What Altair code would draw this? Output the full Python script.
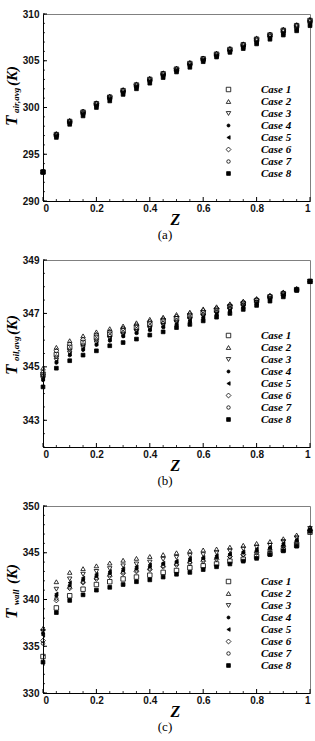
import altair as alt
import pandas as pd

z = [0.0, 0.05, 0.1, 0.15, 0.2, 0.25, 0.3, 0.35, 0.4, 0.45, 0.5,
     0.55, 0.6, 0.65, 0.7, 0.75, 0.8, 0.85, 0.9, 0.95, 1.0]
cases = ["Case 1", "Case 2", "Case 3", "Case 4", "Case 5", "Case 6", "Case 7", "Case 8"]

# Panel (a): T_air,avg
a_case1 = [293.1, 297.1, 298.5, 299.5, 300.4, 301.1, 301.8, 302.4, 303.0, 303.6, 304.1, 304.7, 305.2, 305.7, 306.2, 306.7, 307.3, 307.75, 308.25, 308.75, 309.3]
a_case2 = [293.1, 297.2, 298.6, 299.6, 300.5, 301.2, 301.9, 302.5, 303.1, 303.7, 304.2, 304.8, 305.3, 305.8, 306.3, 306.8, 307.4, 307.85, 308.35, 308.85, 309.4]
a_case3 = [293.1, 296.9, 298.3, 299.25, 300.15, 300.85, 301.55, 302.15, 302.75, 303.35, 303.9, 304.45, 305.0, 305.45, 305.95, 306.4, 306.9, 307.4, 307.85, 308.3, 308.85]
a_case4 = [293.1, 296.85, 298.25, 299.2, 300.1, 300.8, 301.5, 302.1, 302.7, 303.3, 303.85, 304.4, 304.95, 305.4, 305.9, 306.35, 306.85, 307.35, 307.8, 308.25, 308.8]
a_case5 = [293.1, 296.95, 298.35, 299.3, 300.2, 300.9, 301.6, 302.2, 302.8, 303.4, 303.95, 304.5, 305.05, 305.5, 306.0, 306.45, 306.95, 307.45, 307.9, 308.35, 308.9]
a_case6 = [293.1, 297.15, 298.55, 299.55, 300.45, 301.15, 301.85, 302.45, 303.05, 303.65, 304.15, 304.75, 305.25, 305.75, 306.25, 306.75, 307.35, 307.8, 308.3, 308.8, 309.35]
a_case7 = [293.1, 297.05, 298.45, 299.4, 300.3, 301.0, 301.7, 302.3, 302.9, 303.5, 304.0, 304.6, 305.1, 305.6, 306.1, 306.6, 307.2, 307.65, 308.15, 308.65, 309.2]
a_case8 = [293.1, 296.8, 298.2, 299.1, 300.0, 300.7, 301.4, 302.0, 302.6, 303.2, 303.8, 304.3, 304.9, 305.4, 305.9, 306.3, 306.8, 307.3, 307.75, 308.2, 308.75]

# Panel (b): T_oil,avg
b_case1 = [344.7, 345.46, 345.73, 345.91, 346.1, 346.22, 346.35, 346.47, 346.6, 346.72, 346.8, 346.9, 347.02, 347.12, 347.25, 347.37, 347.48, 347.62, 347.74, 347.89, 348.2]
b_case2 = [344.95, 345.73, 345.98, 346.16, 346.31, 346.43, 346.53, 346.65, 346.78, 346.86, 346.96, 347.05, 347.17, 347.25, 347.36, 347.46, 347.56, 347.68, 347.8, 347.93, 348.2]
b_case3 = [344.65, 345.25, 345.52, 345.72, 345.9, 346.06, 346.2, 346.32, 346.43, 346.55, 346.65, 346.77, 346.9, 347.01, 347.14, 347.27, 347.39, 347.54, 347.69, 347.88, 348.2]
b_case4 = [344.5, 345.15, 345.43, 345.63, 345.82, 345.98, 346.14, 346.26, 346.37, 346.48, 346.58, 346.7, 346.83, 346.95, 347.08, 347.22, 347.35, 347.5, 347.66, 347.87, 348.2]
b_case5 = [344.55, 345.2, 345.48, 345.68, 345.86, 346.02, 346.17, 346.29, 346.4, 346.51, 346.61, 346.73, 346.86, 346.98, 347.11, 347.24, 347.37, 347.52, 347.67, 347.87, 348.2]
b_case6 = [344.8, 345.6, 345.85, 346.03, 346.2, 346.32, 346.44, 346.56, 346.69, 346.79, 346.88, 346.98, 347.1, 347.19, 347.31, 347.42, 347.52, 347.65, 347.77, 347.91, 348.2]
b_case7 = [344.6, 345.38, 345.65, 345.83, 346.02, 346.15, 346.28, 346.4, 346.52, 346.64, 346.73, 346.84, 346.96, 347.07, 347.2, 347.33, 347.44, 347.58, 347.71, 347.88, 348.2]
b_case8 = [344.25, 344.95, 345.23, 345.44, 345.6, 345.79, 345.91, 346.04, 346.19, 346.31, 346.47, 346.59, 346.72, 346.86, 347.0, 347.15, 347.3, 347.46, 347.62, 347.86, 348.2]

# Panel (c): T_wall
c_case1 = [333.9, 339.1, 340.4, 341.1, 341.6, 341.9, 342.2, 342.4, 342.6, 342.9, 343.1, 343.4, 343.6, 343.8, 344.1, 344.3, 344.6, 344.9, 345.3, 345.8, 347.2]
c_case2 = [336.9, 341.9, 342.9, 343.3, 343.6, 343.9, 344.2, 344.4, 344.6, 344.8, 345.0, 345.2, 345.3, 345.4, 345.6, 345.8, 346.0, 346.2, 346.5, 346.9, 347.7]
c_case3 = [336.6, 341.1, 342.2, 342.7, 343.0, 343.3, 343.6, 343.8, 344.0, 344.3, 344.5, 344.7, 344.8, 345.0, 345.2, 345.4, 345.6, 345.8, 346.2, 346.6, 347.6]
c_case4 = [336.4, 340.4, 341.5, 342.1, 342.5, 342.8, 343.1, 343.3, 343.5, 343.8, 344.0, 344.2, 344.4, 344.5, 344.8, 345.0, 345.2, 345.5, 345.8, 346.3, 347.5]
c_case5 = [336.2, 340.6, 341.8, 342.3, 342.7, 343.0, 343.3, 343.5, 343.7, 343.9, 344.1, 344.4, 344.5, 344.7, 344.9, 345.1, 345.4, 345.6, 346.0, 346.4, 347.5]
c_case6 = [335.6, 339.9, 341.2, 341.8, 342.2, 342.5, 342.8, 343.0, 343.2, 343.5, 343.7, 343.9, 344.1, 344.3, 344.6, 344.8, 345.0, 345.3, 345.7, 346.1, 347.4]
c_case7 = [335.3, 340.1, 341.3, 341.9, 342.3, 342.6, 342.9, 343.1, 343.3, 343.6, 343.8, 344.0, 344.2, 344.4, 344.6, 344.8, 345.1, 345.4, 345.7, 346.2, 347.4]
c_case8 = [333.3, 338.6, 339.9, 340.5, 341.0, 341.3, 341.6, 341.9, 342.1, 342.4, 342.7, 342.9, 343.2, 343.5, 343.8, 344.1, 344.4, 344.8, 345.2, 345.7, 347.3]

# Axis ticks
x_major = [0, 0.2, 0.4, 0.6, 0.8, 1.0]
x_minor = [0.05, 0.1, 0.15, 0.25, 0.3, 0.35, 0.45, 0.5, 0.55, 0.65, 0.7, 0.75, 0.85, 0.9, 0.95]
a_ymajor = [290, 295, 300, 305, 310]
b_ymajor = [343, 345, 347, 349]
c_ymajor = [330, 335, 340, 345, 350]
a_yminor = list(range(290, 311))
b_yminor = [342 + 0.5 * i for i in range(15)]
c_yminor = list(range(330, 351))

marker_shapes = ["square", "triangle-up", "triangle-down", "circle", "triangle-left", "diamond", "circle", "square"]
marker_fills = ["transparent", "transparent", "transparent", "black", "black", "transparent", "transparent", "black"]
marker_strokes = ["black"] * 8
marker_sizes = [20, 20, 20, 9, 14, 24, 12, 14]

W, H = 267, 187
SERIF = "Liberation Serif"
SANS = "Liberation Sans"


def long_df(lists):
    rows = []
    for name, vals in zip(cases, lists):
        for zz, t in zip(z, vals):
            rows.append({"Z": zz, "T": t, "case": name})
    return pd.DataFrame(rows)


def text_layer(s, x, y, size, angle=0, italic=True, bold=True, align="left", baseline="alphabetic"):
    kw = dict(font=SERIF, fontSize=size, align=align, baseline=baseline, color="black")
    if angle:
        kw["angle"] = angle
    if italic:
        kw["fontStyle"] = "italic"
    if bold:
        kw["fontWeight"] = "bold"
    return alt.Chart(pd.DataFrame({"s": [s]})).mark_text(**kw).encode(
        text="s:N", x=alt.value(x), y=alt.value(y)
    )


def panel(lists, ydom, ymajor, yminor, sub, tpos, caption):
    xs = alt.Scale(domain=[0, 1], nice=False, zero=False)
    ys = alt.Scale(domain=ydom, nice=False, zero=False)
    xax = alt.Axis(values=x_major, format="~g", title=None, ticks=False, labelPadding=2, grid=False)
    yax = alt.Axis(values=ymajor, format="d", title=None, ticks=False, labelPadding=4, grid=False)
    leg = alt.Legend(title=None, orient="none", legendX=180, legendY=70)
    pts = alt.Chart(long_df(lists)).mark_point(
        filled=True, strokeWidth=0.8, opacity=1
    ).encode(
        x=alt.X("Z:Q", scale=xs, axis=xax),
        y=alt.Y("T:Q", scale=ys, axis=yax),
        shape=alt.Shape("case:N", scale=alt.Scale(domain=cases, range=marker_shapes), legend=leg),
        fill=alt.Fill("case:N", scale=alt.Scale(domain=cases, range=marker_fills), legend=leg),
        stroke=alt.Stroke("case:N", scale=alt.Scale(domain=cases, range=marker_strokes), legend=leg),
        size=alt.Size("case:N", scale=alt.Scale(type="ordinal", domain=cases, range=marker_sizes), legend=leg),
    )
    xmaj = alt.Chart(pd.DataFrame({"Z": x_major})).mark_rule(color="black", strokeWidth=1).encode(
        x=alt.X("Z:Q", scale=xs, axis=xax), y=alt.value(H), y2=alt.value(H - 4))
    xmin = alt.Chart(pd.DataFrame({"Z": x_minor})).mark_rule(color="black", strokeWidth=0.8).encode(
        x=alt.X("Z:Q", scale=xs, axis=xax), y=alt.value(H), y2=alt.value(H - 2))
    ymaj = alt.Chart(pd.DataFrame({"T": ymajor})).mark_rule(color="black", strokeWidth=1).encode(
        y=alt.Y("T:Q", scale=ys, axis=yax), x=alt.value(0), x2=alt.value(4))
    ymin = alt.Chart(pd.DataFrame({"T": yminor})).mark_rule(color="black", strokeWidth=0.8).encode(
        y=alt.Y("T:Q", scale=ys, axis=yax), x=alt.value(0), x2=alt.value(2))
    t_start, sub_start, k_start = tpos
    titles = [
        text_layer("T", -26, t_start, 17, angle=270),
        text_layer(sub, -24, sub_start, 9, angle=270),
        text_layer("(K)", -26, k_start, 15, angle=270),
        text_layer("Z", W / 2 - 1, 206, 16, align="center", baseline="middle"),
        text_layer(caption, 122, 221, 13, italic=False, bold=False, align="center", baseline="middle"),
    ]
    return alt.layer(pts, xmin, xmaj, ymin, ymaj, *titles).properties(width=W, height=H)


pa = panel([a_case1, a_case2, a_case3, a_case4, a_case5, a_case6, a_case7, a_case8],
           [290, 310], a_ymajor, a_yminor, "air,avg", (112, 99, 72), "(a)")
pb = panel([b_case1, b_case2, b_case3, b_case4, b_case5, b_case6, b_case7, b_case8],
           [342, 349], b_ymajor, b_yminor, "oil,avg", (115, 101, 75), "(b)")
pc = panel([c_case1, c_case2, c_case3, c_case4, c_case5, c_case6, c_case7, c_case8],
           [330, 350], c_ymajor, c_yminor, "wall", (113, 99, 78), "(c)")

chart = alt.vconcat(pa, pb, pc, spacing=59, bounds="flush").resolve_scale(
    shape="independent", fill="independent", size="independent", stroke="independent"
).properties(
    padding={"left": 2, "top": 8, "right": 0, "bottom": 0}, background="white"
).configure_view(
    stroke="#808080", strokeWidth=1
).configure_axis(
    domainColor="black", domainWidth=1, labelFont=SANS, labelFontWeight="bold",
    labelFontSize=10, labelColor="#111111"
).configure_legend(
    labelFont=SERIF, labelFontStyle="italic", labelFontWeight="bold", labelFontSize=11,
    labelColor="black", symbolStrokeWidth=0.8,
    rowPadding=0, labelOffset=27, padding=0
)

chart.save("out.html", embed_options={"renderer": "svg", "actions": False})
